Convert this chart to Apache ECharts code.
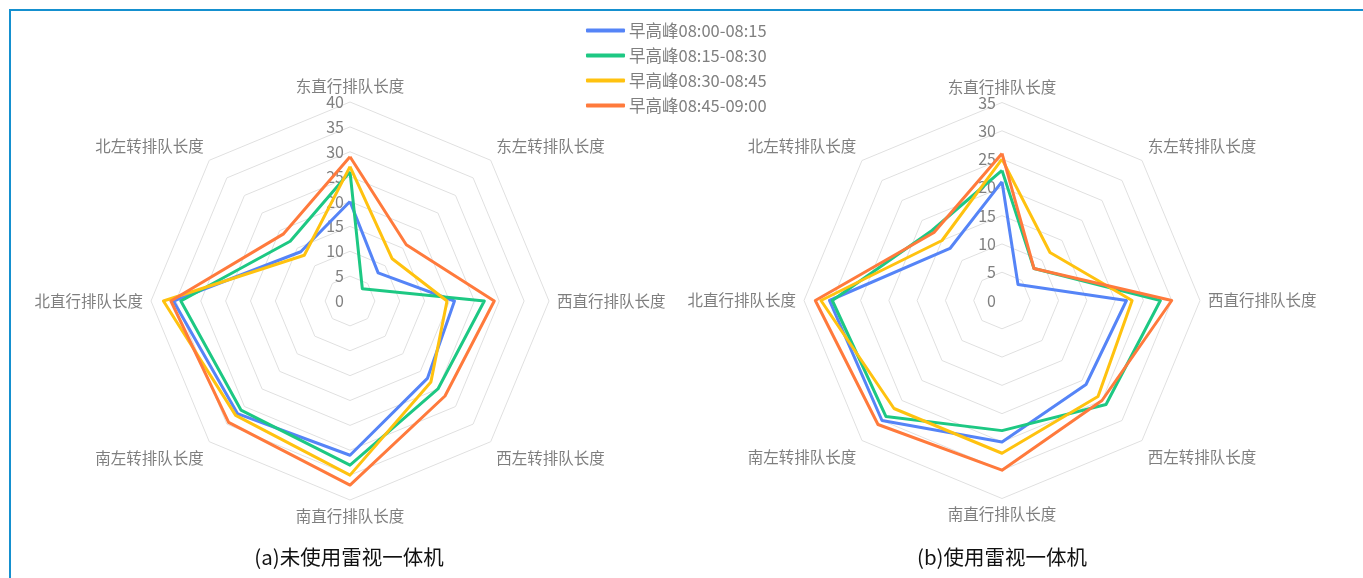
<!DOCTYPE html>
<html>
<head>
<meta charset="utf-8">
<script src="https://cdn.jsdelivr.net/npm/echarts@6/dist/echarts.min.js"></script>
<style>
html,body{margin:0;padding:0;background:#fff;}
#frame{position:absolute;left:9px;top:9px;width:1354px;height:569px;border-top:2px solid #1590cf;border-left:2px solid #1590cf;box-sizing:border-box;}
#chart{position:absolute;left:0;top:0;width:1363px;height:578px;}
</style>
</head>
<body>
<div id="frame"></div>
<div id="chart"></div>
<script>
// Indicators, counterclockwise from top
var indicatorNames = ['东直行排队长度','北左转排队长度','北直行排队长度','南左转排队长度','南直行排队长度','西左转排队长度','西直行排队长度','东左转排队长度'];
var seriesNames = ['早高峰08:00-08:15','早高峰08:15-08:30','早高峰08:30-08:45','早高峰08:45-09:00'];
var colors = ['#5584f7','#1dc883','#ffc20f','#ff7a3c'];
var titleA = '(a)未使用雷视一体机';
var titleB = '(b)使用雷视一体机';
var maxA = 40, maxB = 35;

// (a) without
var a1 = [20, 14, 35.5, 32, 31, 22, 21, 8];
var a2 = [26, 17, 34, 31, 33, 25, 27, 3.5];
var a3 = [27, 13, 37.5, 32.5, 35, 23, 19.5, 12];
var a4 = [29, 19, 36, 34.5, 37, 27, 29, 16];
// (b) with
var b1 = [21, 13, 30.5, 30, 25, 21, 22, 4];
var b2 = [23, 17.5, 30, 29, 23, 26, 28, 8];
var b3 = [25, 15, 32, 27, 27, 24, 23, 12];
var b4 = [26, 17, 33, 31, 30, 25, 30, 8];

var upperDiag = ['北左转排队长度', '东左转排队长度'];
var lowerDiag = ['南左转排队长度', '西左转排队长度'];

function makeIndicators(max){
  return indicatorNames.map(function(n, i){
    var o = {name: n, max: max, min: 0};
    if (i === 0) o.axisLabel = {show: true};
    return o;
  });
}
function radarCfg(center, radius, max, split){
  return {
    center: center,
    radius: radius,
    startAngle: 90,
    splitNumber: split,
    shape: 'polygon',
    indicator: makeIndicators(max),
    nameGap: 8,
    axisName: {
      color: '#7f7f7f', fontSize: 15.5, fontFamily: 'Noto Sans CJK SC',
      formatter: function(name){
        if (upperDiag.indexOf(name) >= 0) return '{up|' + name + '}';
        if (lowerDiag.indexOf(name) >= 0) return '{dn|' + name + '}';
        return name;
      },
      rich: {
        up: {color: '#7f7f7f', fontSize: 15.5, fontFamily: 'Noto Sans CJK SC', padding: [0, 0, 18, 0]},
        dn: {color: '#7f7f7f', fontSize: 15.5, fontFamily: 'Noto Sans CJK SC', padding: [22, 0, 0, 0]}
      }
    },
    axisLine: {show: false},
    axisTick: {show: false},
    axisLabel: {show: false, color: '#808080', fontSize: 16, margin: 6, fontFamily: 'Noto Sans CJK SC'},
    splitLine: {lineStyle: {color: '#e0e0e0', width: 1}},
    splitArea: {show: false}
  };
}
var dataA = [a1, a2, a3, a4], dataB = [b1, b2, b3, b4];
var series = [];
[dataA, dataB].forEach(function(set, ri){
  set.forEach(function(vals, si){
    series.push({
      type: 'radar',
      radarIndex: ri,
      name: seriesNames[si],
      symbol: 'none',
      lineStyle: {width: 3, color: colors[si]},
      itemStyle: {color: colors[si]},
      z: 2 + si,
      data: [{value: vals, name: seriesNames[si]}]
    });
  });
});

var chart = echarts.init(document.getElementById('chart'));
chart.setOption({
  animation: false,
  color: colors,
  legend: {
    orient: 'vertical',
    left: 586,
    top: 20,
    padding: 0,
    icon: 'roundRect',
    itemWidth: 39,
    itemHeight: 4,
    itemGap: 4,
    textStyle: {color: '#7f7f7f', fontSize: 16.5, lineHeight: 21, fontFamily: 'Noto Sans CJK SC', padding: [0, 0, 0, -1]},
    data: seriesNames
  },
  title: [
    {text: titleA, left: 349, top: 547, padding: 0, textAlign: 'center', textStyle: {color: '#111', fontSize: 20.5, fontWeight: 'normal', fontFamily: 'Noto Sans CJK SC'}},
    {text: titleB, left: 1002, top: 547, padding: 0, textAlign: 'center', textStyle: {color: '#111', fontSize: 20.5, fontWeight: 'normal', fontFamily: 'Noto Sans CJK SC'}}
  ],
  radar: [
    radarCfg([350, 301], 199, maxA, 8),
    radarCfg([1002, 300.5], 198, maxB, 7)
  ],
  series: series
});
</script>
</body>
</html>
